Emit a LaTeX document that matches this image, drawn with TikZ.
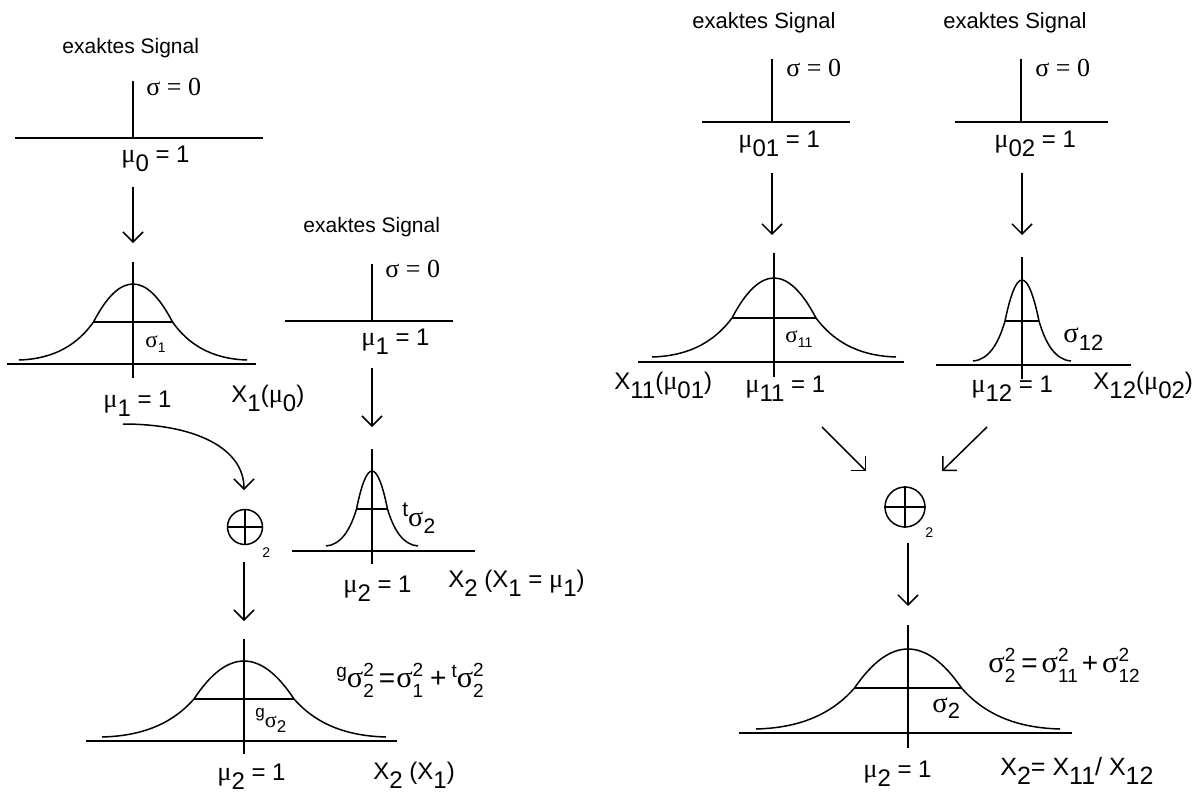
\documentclass[tikz,border=0pt]{standalone}
\usepackage{fontspec}
\setmainfont{Liberation Sans}
\newfontfamily\grk{Liberation Serif}
\usetikzlibrary{arrows.meta}
\newcommand{\mug}{\scalebox{1.1}{\grk μ}}
\newcommand{\sgm}[1][1.15]{\scalebox{#1}{\grk σ}}
\newcommand{\lo}[1]{\raisebox{-0.75ex}{#1}}
\newcommand{\los}[1]{\raisebox{-0.5ex}{\fontsize{7}{8}\selectfont #1}}
\newcommand{\suphi}[2]{\raisebox{-5pt}{\vbox{\baselineskip=10.5pt\lineskiplimit=-5pt\hbox{#1}\hbox{#2}}}}
\newcommand{\bsym}[1]{{\fontsize{14}{16}\selectfont #1}}
% bell: centre x, top y, half-line y, half width, tail y, tail length
\newcommand{\bell}[6]{%
  \draw[ln] ({#1-#4-#6},#5) .. controls ({#1-#4-0.5*#6},{#5-0.03*(#5-#3)}) and ({#1-#4-0.2*#6},{#3+0.55*(#5-#3)}) .. ({#1-#4},#3)
    .. controls ({#1-0.667*#4},{#3-0.667*(#3-#2)}) and ({#1-0.333*#4},#2) .. (#1,#2)
    .. controls ({#1+0.333*#4},#2) and ({#1+0.667*#4},{#3-0.667*(#3-#2)}) .. ({#1+#4},#3)
    .. controls ({#1+#4+0.2*#6},{#3+0.55*(#5-#3)}) and ({#1+#4+0.5*#6},{#5-0.03*(#5-#3)}) .. ({#1+#4+#6},#5);
  \draw[ln] ({#1-#4},#3) -- ({#1+#4},#3);}
\tikzset{
  % axes and curves
  ln/.style={line width=0.75pt},
  % open arrows
  arr/.style={-{Straight Barb[length=5pt,width=10pt]},line width=0.75pt},
  % "exaktes Signal"
  captxt/.style={font=\fontsize{10.5}{12}\selectfont,anchor=base west,inner sep=0pt},
  % mu and X labels
  lbl/.style={font=\fontsize{12}{14}\selectfont,anchor=base west,inner sep=0pt},
  % sigma = 0
  zer/.style={font=\grk\fontsize{13}{15}\selectfont,anchor=base west,inner sep=0pt},
  % sigma labels at the bells
  sgl/.style={font=\fontsize{11}{12}\selectfont,anchor=base west,inner sep=0pt},
  % variance sums
  eqn/.style={font=\fontsize{9.5}{11}\selectfont,anchor=base west,inner sep=0pt},
  % combination sign
  opl/.style={circle,draw,line width=0.75pt,inner sep=0pt},
  subtxt/.style={font=\fontsize{7}{8}\selectfont,anchor=base west,inner sep=0pt},
}
\begin{document}
\begin{tikzpicture}[x=0.5pt,y=-0.5pt]
  \useasboundingbox (0,0) rectangle (1200,798);

  % left: first exact signal
  \node[captxt] (cap0) at (62,53) {exaktes Signal};
  \draw[ln] (133,81) -- (133,138);
  \draw[ln] (15,138) -- (263,138);
  \node[zer] (zero0) at (146,95) {σ = 0};
  \node[lbl] (mu0) at (121,162) {\mug\lo{0} = 1};
  \coordinate (a1s) at (133,187);
  \coordinate (a1e) at (133,243);
  \draw[arr] (a1s) -- (a1e);

  % bell X1
  \bell{133}{284}{322}{39.5}{360}{74.5}
  \draw[ln] (133,262) -- (133,378);
  \draw[ln] (7,364) -- (256,364);
  \node[sgl,font=\fontsize{10}{12}\selectfont] (sg1) at (145,347) {\sgm\los{1}};
  \node[lbl] (mu1) at (103,407) {\mug\lo{1} = 1};
  \node[lbl] (x1) at (231,402) {X\lo{1}(\mug\lo{0})};

  % left: second exact signal
  \node[captxt] (cap1) at (303,232) {exaktes Signal};
  \draw[ln] (372,264) -- (372,321);
  \draw[ln] (285,321) -- (453,321);
  \node[zer] (zero1) at (385,277) {σ = 0};
  \node[lbl] (mu1t) at (361,345) {\mug\lo{1} = 1};
  \coordinate (a2s) at (372,368);
  \coordinate (a2e) at (372,427);
  \draw[arr] (a2s) -- (a2e);

  % bell X2(X1=mu1)
  \bell{372}{471}{509}{15.5}{546}{30.5}
  \draw[ln] (372,449) -- (372,564);
  \draw[ln] (292,551) -- (475,551);
  \node[eqn,font=\fontsize{10.5}{12}\selectfont] (sgt) at (402,526) {\raisebox{5pt}{t}\sgm[1.35]\raisebox{-3.5pt}{2}};
  \node[lbl] (mu2t) at (343,592) {\mug\lo{2} = 1};
  \node[lbl] (x2t) at (448,587) {X\lo{2} (X\lo{1} = \mug\lo{1})};

  % combination
  \node[opl,minimum size=17.5pt] (op1) at (245,527) {};
  \draw[ln] (op1.west) -- (op1.east);
  \draw[ln] (op1.north) -- (op1.south);
  \node[subtxt] (op1sub) at (262,557) {2};
  \coordinate (c1s) at (123,424);
  \coordinate (c1e) at (244,490);
  \draw[arr] (c1s) .. controls (195,424) and (244,448) .. (c1e);
  \coordinate (a3s) at (244,562);
  \coordinate (a3e) at (244,621);
  \draw[arr] (a3s) -- (a3e);

  % bell X2(X1)
  \bell{244}{661}{699}{50}{737}{92}
  \draw[ln] (244,639) -- (244,754);
  \draw[ln] (86,741) -- (397,741);
  \node[eqn,font=\fontsize{8.5}{10}\selectfont] (sgg) at (255,727) {\raisebox{5pt}{g}\sgm[1.3]\raisebox{-2.5pt}{2}};
  \node[eqn] (eqg) at (336,687)
    {\raisebox{5pt}{g}\sgm[1.6]\suphi{2}{2}\kern2.5pt\bsym{=}\kern0.5pt\sgm[1.6]\suphi{2}{1}\kern3.5pt\bsym{+}\kern2.5pt\raisebox{5pt}{t}\sgm[1.6]\suphi{2}{2}};
  \node[lbl] (mu2) at (217,780) {\mug\lo{2} = 1};
  \node[lbl] (x2) at (373,779) {X\lo{2} (X\lo{1})};

  % right: two exact signals
  \node[captxt,font=\fontsize{11}{12}\selectfont] (cap01) at (692,28) {exaktes Signal};
  \node[captxt,font=\fontsize{11}{12}\selectfont] (cap02) at (943,28) {exaktes Signal};
  \draw[ln] (772,59) -- (772,122);
  \draw[ln] (702,122) -- (850,122);
  \draw[ln] (1021,59) -- (1021,122);
  \draw[ln] (955,122) -- (1108,122);
  \node[zer] (zero01) at (786,76) {σ = 0};
  \node[zer] (zero02) at (1035,76) {σ = 0};
  \node[lbl] (mu01) at (738,147) {\mug\lo{01} = 1};
  \node[lbl] (mu02) at (994,147) {\mug\lo{02} = 1};
  \coordinate (a4s) at (772,173);
  \coordinate (a4e) at (772,235);
  \coordinate (a5s) at (1022,173);
  \coordinate (a5e) at (1022,235);
  \draw[arr] (a4s) -- (a4e);
  \draw[arr] (a5s) -- (a5e);

  % bells X11 and X12
  \bell{774}{278}{318}{42}{357}{80}
  \draw[ln] (774,253) -- (774,377);
  \draw[ln] (638,362) -- (904,362);
  \node[sgl,font=\fontsize{10}{12}\selectfont] (sg11) at (785,342) {\sgm\los{11}};
  \bell{1022}{280}{321}{17}{361}{32}
  \draw[ln] (1022,257) -- (1022,379);
  \draw[ln] (936,365) -- (1131,365);
  \node[sgl] (sg12) at (1063,342) {\sgm[1.3]\lo{12}};
  \node[lbl] (x11) at (614,389) {X\lo{11}(\mug\lo{01})};
  \node[lbl] (mu11) at (745,392) {\mug\lo{11} = 1};
  \node[lbl] (mu12) at (971,392) {\mug\lo{12} = 1};
  \node[lbl] (x12) at (1093,389) {X\lo{12}(\mug\lo{02})};

  % combination
  \coordinate (d1s) at (822,427);
  \coordinate (d1e) at (866,471);
  \coordinate (d2s) at (987,427);
  \coordinate (d2e) at (942,471);
  \draw[arr] (d1s) -- (d1e);
  \draw[arr] (d2s) -- (d2e);
  \node[opl,minimum size=20pt] (op2) at (905,507) {};
  \draw[ln] (op2.west) -- (op2.east);
  \draw[ln] (op2.north) -- (op2.south);
  \node[subtxt] (op2sub) at (925,537) {2};
  \coordinate (a6s) at (908,543);
  \coordinate (a6e) at (908,606);
  \draw[arr] (a6s) -- (a6e);

  % bell X2 = X11/X12
  \bell{908}{649}{688}{53.5}{729}{98.5}
  \draw[ln] (908,625) -- (908,748);
  \draw[ln] (739,733) -- (1072,733);
  \node[eqn,font=\fontsize{11}{12}\selectfont] (sg2) at (932,712) {\sgm[1.3]\raisebox{-3pt}{2}};
  \node[eqn] (eq2) at (988,672)
    {\sgm[1.6]\suphi{2}{2}\kern3pt\bsym{=}\kern2pt\sgm[1.6]\suphi{2}{11}\kern2pt\bsym{+}\kern2pt\sgm[1.6]\suphi{2}{12}};
  \node[lbl] (mu2r) at (863,777) {\mug\lo{2} = 1};
  \node[lbl,font=\fontsize{12.5}{14}\selectfont] (x2r) at (1000,775) {X\lo{2}= X\lo{11}/ X\lo{12}};
\end{tikzpicture}
\end{document}
